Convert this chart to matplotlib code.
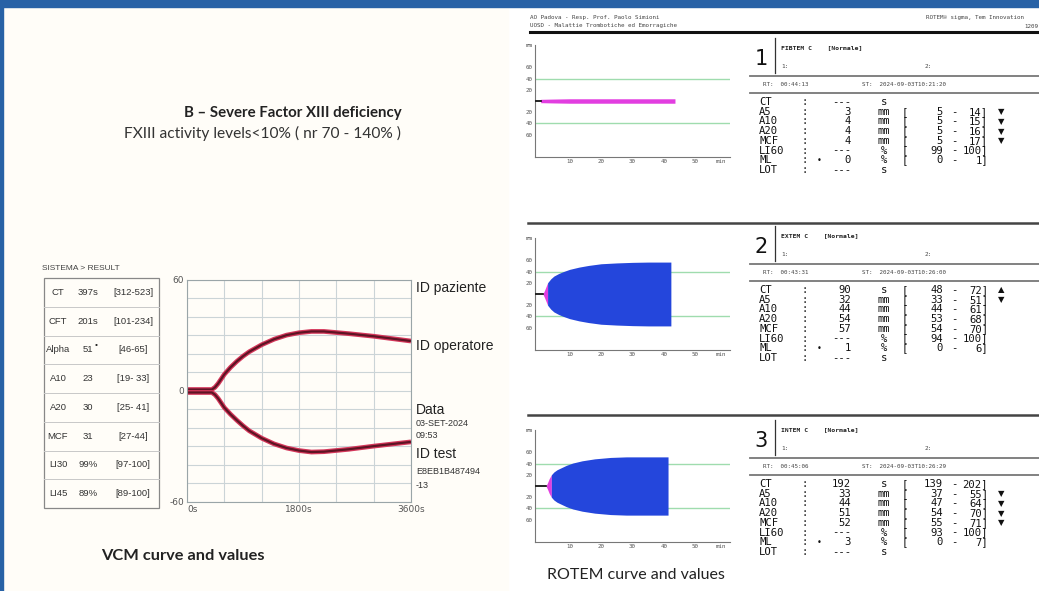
import numpy as np
import matplotlib
matplotlib.use('Agg')
import matplotlib.pyplot as plt
from matplotlib.lines import Line2D
from matplotlib.patches import Rectangle

# ---------------- DATA ----------------
# VCM curve (seconds, amplitude)
vcm_t = [0, 200, 400, 450, 500, 550, 600, 700, 800, 900, 1000, 1200, 1400, 1600, 1800, 2000, 2200, 2600, 3000, 3600]
vcm_up = [0.8, 0.8, 0.8, 2, 4, 6.5, 9, 12.8, 16, 18.8, 21.2, 25, 28, 30.2, 31.5, 32.2, 32.2, 31, 29.6, 27]
vcm_lo = [-0.8, -0.8, -0.8, -2, -4, -6.5, -9, -12.6, -15.8, -18.8, -21.5, -25.5, -28.6, -30.8, -32.2, -33, -32.8, -31.5, -29.8, -27.5]

vcm_params = ['CT', 'CFT', 'Alpha', 'A10', 'A20', 'MCF', 'LI30', 'LI45']
vcm_values = ['397s', '201s', '51', '23', '30', '31', '99%', '89%']
vcm_ranges = ['[312-523]', '[101-234]', '[46-65]', '[19- 33]', '[25- 41]', '[27-44]', '[97-100]', '[89-100]']

# ROTEM curves (minutes, amplitude mm)
fib_ct = 0.8
fib_t = [0.8, 5, 10, 20, 30, 43.5]
fib_amp = [3, 3.5, 4, 4, 4, 4]

ext_ct = 1.5
ext_t = [1.5, 2, 2.5, 3, 4, 5, 6.5, 8, 10, 13, 16, 20, 25, 30, 35, 42.2]
ext_amp = [0, 6, 13, 20, 27, 32, 36.5, 40, 44, 48, 51, 54, 55.5, 56.5, 57, 57]

int_ct = 2.5
int_t = [2.5, 3, 3.5, 4.2, 5, 6, 7.5, 9, 11, 14, 18, 23, 28, 33, 41.3]
int_amp = [0, 6, 13, 20, 25, 29, 33, 37, 41, 45, 48.5, 51, 52, 52, 52]

rotem_names = ['CT', 'A5', 'A10', 'A20', 'MCF', 'LI60', 'ML', 'LOT']
rotem_units = ['s', 'mm', 'mm', 'mm', 'mm', '%', '%', 's']

fib_vals = ['---', '3', '4', '4', '4', '---', '0', '---']
fib_low = ['', '5', '5', '5', '5', '99', '0', '']
fib_high = ['', '14', '15', '16', '17', '100', '1', '']
fib_flags = ['', 'down', 'down', 'down', 'down', '', '', '']

ext_vals = ['90', '32', '44', '54', '57', '---', '1', '---']
ext_low = ['48', '33', '44', '53', '54', '94', '0', '']
ext_high = ['72', '51', '61', '68', '70', '100', '6', '']
ext_flags = ['up', 'down', '', '', '', '', '', '']

int_vals = ['192', '33', '44', '51', '52', '---', '3', '---']
int_low = ['139', '37', '47', '54', '55', '93', '0', '']
int_high = ['202', '55', '64', '70', '71', '100', '7', '']
int_flags = ['', 'down', 'down', 'down', 'down', '', '', '']

test_names = ['FIBTEM C', 'EXTEM C', 'INTEM C']
rt_times = ['00:44:13', '00:43:31', '00:45:06']
st_times = ['2024-09-03T10:21:20', '2024-09-03T10:26:00', '2024-09-03T10:26:29']

# ---------------- FIGURE ----------------
W, H = 1039, 591
fig = plt.figure(figsize=(W / 100, H / 100), dpi=100)
fig.patch.set_facecolor('white')


def box(x0, y0, x1, y1):
    return [x0 / W, 1 - y1 / H, (x1 - x0) / W, (y1 - y0) / H]


def txt(x, y, s, **kw):
    kw.setdefault('va', 'center')
    fig.text(x / W, 1 - y / H, s, **kw)


def hline(x0, x1, y, **kw):
    fig.add_artist(Line2D([x0 / W, x1 / W], [1 - y / H, 1 - y / H], transform=fig.transFigure, **kw))


def vline(x, y0, y1, **kw):
    fig.add_artist(Line2D([x / W, x / W], [1 - y0 / H, 1 - y1 / H], transform=fig.transFigure, **kw))


# frame
fig.add_artist(Rectangle((0, 1 - 7 / H), 1, 7 / H, transform=fig.transFigure, color='#2862a6', zorder=5))
fig.add_artist(Rectangle((0, 0), 3 / W, 1, transform=fig.transFigure, color='#2862a6', zorder=5))
fig.add_artist(Rectangle((3 / W, 0), 505 / W, 1 - 7 / H, transform=fig.transFigure, color='#fffdf8', zorder=0))

# titles
txt(293, 113, 'B – Severe Factor XIII deficiency', ha='center', fontsize=10.8, fontweight='bold', family='Lato', color='#222')
txt(263, 133, 'FXIII activity levels<10% ( nr 70 - 140% )', ha='center', fontsize=11.2, family='Lato', color='#333')
txt(183, 556, 'VCM curve and values', ha='center', fontsize=11.8, fontweight='bold', family='Lato', color='#222')
txt(636, 575, 'ROTEM curve and values', ha='center', fontsize=11.5, family='Lato', color='#222')

# ---------------- VCM table ----------------
sans = 'Liberation Sans'
txt(42, 268, 'SISTEMA > RESULT', fontsize=6, family=sans, color='#444')
tx0, tx1, ty0, ty1 = 44, 159, 278, 508
rh = (ty1 - ty0) / len(vcm_params)
fig.add_artist(Rectangle((tx0 / W, 1 - ty1 / H), (tx1 - tx0) / W, (ty1 - ty0) / H, transform=fig.transFigure,
                         fill=False, ec='#888', lw=0.9))
for i, (p, v, r) in enumerate(zip(vcm_params, vcm_values, vcm_ranges)):
    yc = ty0 + rh * (i + 0.5)
    if i > 0:
        hline(tx0, tx1, ty0 + rh * i, color='#c8c8c8', lw=0.7)
    txt(58, yc, p, ha='center', fontsize=6.8, family=sans, color='#333')
    txt(88, yc, v, ha='center', fontsize=6.8, family=sans, color='#333')
    txt(133, yc, r, ha='center', fontsize=6.8, family=sans, color='#333')
txt(96, 346, '•', ha='center', fontsize=6, family=sans, color='#222')

# ---------------- VCM chart ----------------
ax = fig.add_axes(box(187, 280, 411, 502))
ax.set_facecolor('none')
ax.set_xlim(0, 3600)
ax.set_ylim(-60, 60)
ax.set_xticks(np.arange(0, 3601, 600), minor=True)
ax.set_yticks(np.arange(-60, 61, 10), minor=True)
ax.set_xticks([0, 1800, 3600])
ax.set_xticklabels(['0s', '1800s', '3600s'])
ax.set_yticks([-60, 0, 60])
ax.set_yticklabels(['-60', '0', '60'])
ax.get_xticklabels()[0].set_ha('left')
ax.grid(which='both', color='#cbd4d7', lw=0.8)
ax.tick_params(which='both', length=0, labelsize=6.5, colors='#555', pad=2)
for s in ax.spines.values():
    s.set_color('#9aa5a8')
    s.set_linewidth(0.8)
for yy in (vcm_up, vcm_lo):
    ax.plot(vcm_t, yy, color='#d4365a', lw=3.4, solid_capstyle='butt')
    ax.plot(vcm_t, yy, color='#5e1424', lw=1.6, solid_capstyle='butt')

txt(416, 288, 'ID paziente', fontsize=10, family=sans, color='#222')
txt(416, 346, 'ID operatore', fontsize=10, family=sans, color='#222')
txt(416, 410, 'Data', fontsize=10, family=sans, color='#222')
txt(416, 424, '03-SET-2024', fontsize=6.5, family=sans, color='#333')
txt(416, 436, '09:53', fontsize=6.5, family=sans, color='#333')
txt(416, 454, 'ID test', fontsize=10, family=sans, color='#222')
txt(416, 472, 'E8EB1B487494', fontsize=6.5, family=sans, color='#333')
txt(416, 485, '-13', fontsize=6.5, family=sans, color='#333')

# ---------------- ROTEM report ----------------
mono = 'DejaVu Sans Mono'
txt(530, 18, 'AO Padova - Resp. Prof. Paolo Simioni', fontsize=4.2, family=mono, color='#444')
txt(530, 26, 'UOSD - Malattie Trombotiche ed Emorragiche', fontsize=4.2, family=mono, color='#444')
txt(926, 18, 'ROTEM® sigma, Tem Innovation', fontsize=4.2, family=mono, color='#444')
txt(1024, 26, '1209', fontsize=4.2, family=mono, color='#444')
hline(530, 1039, 32, color='#111', lw=2.2)
hline(528, 1039, 223, color='#444', lw=1.8)
hline(528, 1039, 415, color='#444', lw=1.8)

curves = [(fib_ct, fib_t, fib_amp, 99), (ext_ct, ext_t, ext_amp, 3), (int_ct, int_t, int_amp, 3)]
centers = [101, 294, 486]
offsets = [0, 188, 382]
panels = [(fib_vals, fib_low, fib_high, fib_flags),
          (ext_vals, ext_low, ext_high, ext_flags),
          (int_vals, int_low, int_high, int_flags)]

for k in range(3):
    ct, t, amp, kmag = curves[k]
    cy = centers[k]
    ax = fig.add_axes(box(535, cy - 56, 730, cy + 56))
    ax.set_facecolor('none')
    ax.set_xlim(-1, 61)
    ax.set_ylim(-100, 100)
    ax.axhline(40, color='#9fdcae', lw=1, zorder=1)
    ax.axhline(-40, color='#9fdcae', lw=1, zorder=1)
    ax.plot([-0.8, ct], [0, 0], color='k', lw=1.2, zorder=3)
    t = np.array(t)
    amp = np.array(amp)
    if kmag >= len(t):
        ax.fill_between(t, -amp, amp, color='#e23ee0', lw=0, zorder=2)
    else:
        ax.fill_between(t[:kmag + 1], -amp[:kmag + 1], amp[:kmag + 1], color='#e23ee0', lw=0, zorder=2)
        ax.fill_between(t[kmag:], -amp[kmag:], amp[kmag:], color='#2446dc', lw=0, zorder=2)
    ax.set_yticks([100, 60, 40, 20, -20, -40, -60])
    ax.set_yticklabels(['mm', '60', '40', '20', '20', '40', '60'])
    ax.set_xticks([10, 20, 30, 40, 50, 58])
    ax.set_xticklabels(['10', '20', '30', '40', '50', 'min'])
    ax.tick_params(length=0, labelsize=4.2, colors='#555', pad=1.5)
    for lab in ax.get_xticklabels() + ax.get_yticklabels():
        lab.set_family(mono)
    ax.spines['top'].set_visible(False)
    ax.spines['right'].set_visible(False)
    ax.spines['left'].set_color('#777')
    ax.spines['bottom'].set_color('#777')
    ax.spines['left'].set_linewidth(0.8)
    ax.spines['bottom'].set_linewidth(0.8)

    # text block
    o = offsets[k]
    vals, low, high, flags = panels[k]
    txt(761, 59 + o, str(k + 1), ha='center', fontsize=15, family='DejaVu Sans', color='#111')
    vline(775, 38 + o, 73 + o, color='#333', lw=0.9)
    txt(781, 48 + o, test_names[k] + '    [Normale]', fontsize=4.6, family=mono, color='#222', fontweight='bold')
    txt(781, 66 + o, '1:', fontsize=4.4, family=mono, color='#444')
    txt(925, 66 + o, '2:', fontsize=4.4, family=mono, color='#444')
    hline(750, 1039, 76 + o, color='#777', lw=1.3)
    txt(763, 85 + o, 'RT:  ' + rt_times[k], fontsize=4.2, family=mono, color='#444')
    txt(862, 85 + o, 'ST:  ' + st_times[k], fontsize=4.2, family=mono, color='#444')
    hline(750, 1039, 93 + o, color='#777', lw=1.3)
    for i, name in enumerate(rotem_names):
        yr = 102 + o + i * 9.7
        kw = dict(fontsize=7.6, family=mono, color='#111')
        txt(759, yr, name, ha='left', **kw)
        txt(805, yr, ':', ha='center', **kw)
        txt(851, yr, vals[i], ha='right', **kw)
        txt(884, yr, rotem_units[i], ha='center', **kw)
        if name == 'ML':
            txt(819, yr, '•', ha='center', fontsize=6, color='#111')
        if low[i]:
            txt(905, yr, '[', ha='center', **kw)
            txt(943, yr, low[i], ha='right', **kw)
            txt(954, yr, '-', ha='center', **kw)
            txt(988, yr, high[i] + ']', ha='right', **kw)
        if flags[i] == 'down':
            txt(1001, yr, '▼', ha='center', fontsize=6, family='DejaVu Sans', color='#111')
        elif flags[i] == 'up':
            txt(1001, yr, '▲', ha='center', fontsize=6, family='DejaVu Sans', color='#111')

fig.savefig('out.png', dpi=100)
